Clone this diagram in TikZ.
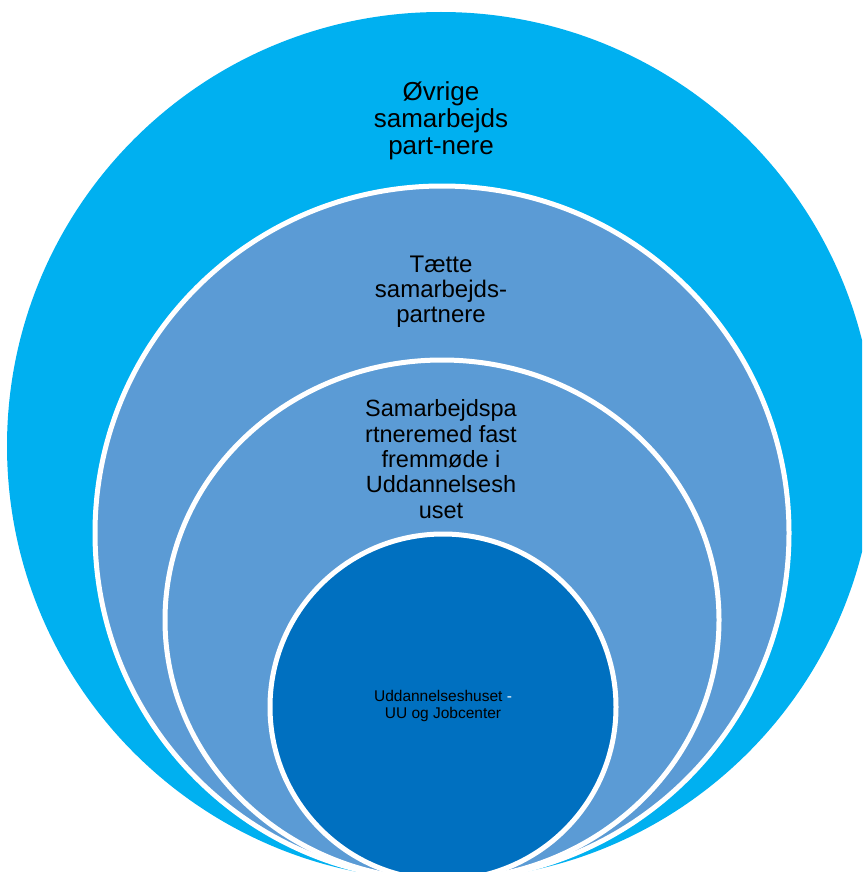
\documentclass[tikz,border=0pt]{standalone}
\usepackage{fontspec}
\setmainfont{Liberation Sans}

\definecolor{ringsky}{HTML}{00B0F0}
\definecolor{ringmid}{HTML}{5B9BD5}
\definecolor{ringcore}{HTML}{0070C0}

\begin{document}
\begin{tikzpicture}[x=1pt,y=-1pt,
		ringedge/.style={draw=white, line width=5pt},
		ringtext/.style={align=center, black, inner sep=0pt}]
		\useasboundingbox (0,0) rectangle (862,872);
		\clip (0,0) rectangle (862,872);
		%\fill[white] (0,0) rectangle (862,872);
		\fill[ringsky] (441,446) circle[radius=434];
		\filldraw[ringmid, ringedge] (442,533) circle[radius=347];
		\filldraw[ringmid, ringedge] (442,620) ellipse[x radius=277, y radius=260];
		\filldraw[ringcore, ringedge] (443,707) circle[radius=173];
		
		\node[ringtext, font=\fontsize{26}{27}\selectfont] (ovrige) at (441,121) {Øvrige\\samarbejds\\part-nere};
		\node[ringtext, font=\fontsize{24}{25}\selectfont] (taette) at (441,292) {Tætte\\samarbejds-\\partnere};
		\node[ringtext, font=\fontsize{23.5}{25.3}\selectfont] (fastfrem) at (441,459) {Samarbejdspa\\rtneremed fast\\fremmøde i\\Uddannelsesh\\uset};
		\node[ringtext, font=\fontsize{15.5}{17}\selectfont] (uhus) at (443,706) {Uddannelseshuset \textcolor{white}{-}\\UU og Jobcenter};
	\end{tikzpicture}
\end{document}
